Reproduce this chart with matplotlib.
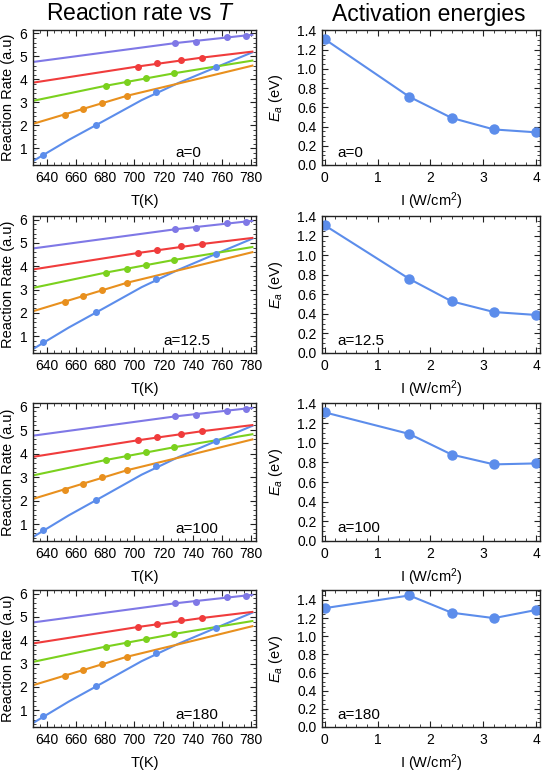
import matplotlib
matplotlib.use("Agg")
import matplotlib.pyplot as plt
from matplotlib.ticker import MultipleLocator
import numpy as np

plt.rcParams['font.family'] = ['Liberation Sans', 'DejaVu Sans']
plt.rcParams['mathtext.fontset'] = 'custom'
plt.rcParams['mathtext.rm'] = 'Liberation Sans'
plt.rcParams['mathtext.it'] = 'Liberation Sans:italic'

# reaction rate data points (same in every row)
blue_T = [637.7, 673.9, 715.0, 756.0]
blue_r = [0.73, 2.03, 3.45, 4.52]
orange_T = [652.4, 664.7, 677.5, 695.0]
orange_r = [2.47, 2.71, 2.99, 3.29]
green_T = [680.3, 695.0, 708.2, 727.5]
green_r = [3.72, 3.88, 4.07, 4.27]
red_T = [702.3, 715.6, 732.1, 746.5]
red_r = [4.56, 4.70, 4.85, 4.95]
purple_T = [728.0, 742.0, 763.7, 776.3]
purple_r = [5.58, 5.64, 5.83, 5.91]

# fitted curves
blue_fit_T = [630.5, 655, 680, 705, 730, 755, 781]
blue_fit_r = [0.45, 1.37, 2.23, 3.10, 3.84, 4.50, 5.18]
orange_fit_T = [630.5, 695, 740, 781]
orange_fit_r = [2.07, 3.29, 3.97, 4.60]
green_fit_T = [630.5, 680, 727.5, 781]
green_fit_r = [3.07, 3.72, 4.27, 4.82]
red_fit_T = [630.5, 702, 746.5, 781]
red_fit_r = [3.86, 4.56, 4.95, 5.21]
purple_fit_T = [630.5, 728, 776, 781]
purple_fit_r = [4.76, 5.58, 5.91, 5.94]

# activation energies
intensity = [0, 1.6, 2.4, 3.2, 4.0]
ea_a0 = [1.31, 0.71, 0.49, 0.37, 0.34]
ea_a12 = [1.31, 0.76, 0.53, 0.42, 0.39]
ea_a100 = [1.31, 1.09, 0.88, 0.78, 0.79]
ea_a180 = [1.31, 1.45, 1.26, 1.20, 1.29]
a_labels = ["a=0", "a=12.5", "a=100", "a=180"]

c_blue = '#5C8DEB'
c_orange = '#E8901E'
c_green = '#7BD11E'
c_red = '#F03C3C'
c_purple = '#7F78E6'

series = [
    (blue_T, blue_r, blue_fit_T, blue_fit_r, c_blue),
    (orange_T, orange_r, orange_fit_T, orange_fit_r, c_orange),
    (green_T, green_r, green_fit_T, green_fit_r, c_green),
    (red_T, red_r, red_fit_T, red_fit_r, c_red),
    (purple_T, purple_r, purple_fit_T, purple_fit_r, c_purple),
]
ea_rows = [ea_a0, ea_a12, ea_a100, ea_a180]

W, H = 548, 774
fig = plt.figure(figsize=(W / 100, H / 100), dpi=100)

tops = [30, 216, 403, 590]
bots = [165, 353, 541, 727]


def style(ax):
    for s in ax.spines.values():
        s.set_linewidth(1.0)
        s.set_color('#222222')
    ax.tick_params(which='both', direction='in', top=True, right=True,
                   labelsize=10, colors='#222222', labelcolor='black')
    ax.tick_params(which='major', length=4, width=0.8, pad=4)
    ax.tick_params(which='minor', length=2, width=0.6)


for i in range(4):
    y0 = 1 - bots[i] / H
    h = (bots[i] - tops[i]) / H

    # left column
    ax = fig.add_axes([33 / W, y0, 223 / W, h])
    for T, r, fT, fr, c in series:
        ax.plot(fT, fr, color=c, lw=1.5, zorder=2)
        ax.plot(T, r, 'o', color=c, ms=4, zorder=3)
    ax.set_xlim(630.5, 783.5)
    ax.set_ylim(0.28, 6.15)
    ax.xaxis.set_major_locator(MultipleLocator(20))
    ax.xaxis.set_minor_locator(MultipleLocator(5))
    ax.yaxis.set_major_locator(MultipleLocator(1))
    ax.yaxis.set_minor_locator(MultipleLocator(0.2))
    style(ax)
    ax.set_xlabel("T(K)", fontsize=10.5, labelpad=7)
    ax.set_ylabel("Reaction Rate (a.u)", fontsize=10.5, labelpad=3)
    xt = 0.585 if i == 1 else 0.64
    ax.text(xt, 0.035, a_labels[i], transform=ax.transAxes, fontsize=11,
            ha='left', va='bottom')

    # right column
    ax2 = fig.add_axes([322 / W, y0, 218 / W, h])
    ax2.plot(intensity, ea_rows[i], '-o', color=c_blue, lw=1.5, ms=6.5)
    ax2.set_xlim(-0.05, 4.07)
    ax2.set_ylim(0, 1.51 if i == 3 else 1.405)
    ax2.xaxis.set_major_locator(MultipleLocator(1))
    ax2.xaxis.set_minor_locator(MultipleLocator(0.2))
    ax2.yaxis.set_major_locator(MultipleLocator(0.2))
    ax2.yaxis.set_minor_locator(MultipleLocator(0.05))
    ax2.yaxis.set_major_formatter(matplotlib.ticker.FormatStrFormatter('%.1f'))
    style(ax2)
    ax2.set_xlabel("I (W/cm$^2$)", fontsize=10.5, labelpad=4)
    ax2.set_ylabel("$E_a$ (eV)", fontsize=10.5, labelpad=9)
    ax2.text(0.07, 0.04, a_labels[i], transform=ax2.transAxes, fontsize=11,
             ha='left', va='bottom')

fig.text(140 / W, 1 - 14 / H, "Reaction rate vs $T$", fontsize=16.5,
         ha='center', va='center')
fig.text(429 / W, 1 - 14 / H, "Activation energies", fontsize=16.5,
         ha='center', va='center')

fig.savefig("out.png", dpi=100)
